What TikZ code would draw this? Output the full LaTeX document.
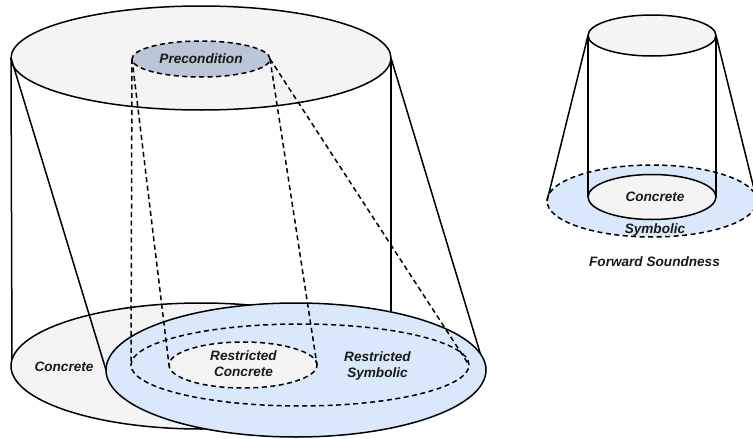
\documentclass[tikz,border=0pt]{standalone}
\usepackage{fontspec}
\setmainfont{Liberation Sans}
\usetikzlibrary{shapes.geometric}
\definecolor{graybg}{HTML}{F4F4F4}
\definecolor{symblue}{HTML}{DAE8FC}
\definecolor{precol}{HTML}{BAC5D8}
\begin{document}
\begin{tikzpicture}[x=1pt,y=-1pt,
  solidline/.style={draw=black,line width=1.5pt},
  dashline/.style={draw=black,line width=1.5pt,dash pattern=on 5pt off 3.5pt},
  disc/.style={ellipse,inner sep=0pt,outer sep=0pt},
  lbl/.style={font=\fontsize{13.6}{16}\selectfont\bfseries\itshape,text=black!90,align=center,inner sep=0pt}]
\useasboundingbox (0,0) rectangle (753,439);
\clip (0,0) rectangle (753,439);

% ---- large cylinder: concrete states ----
\node[disc,solidline,fill=graybg,minimum width=380pt,minimum height=104pt] (top) at (201,58) {};
\coordinate (lbase) at (12,366);
\coordinate (rbase) at (391,366);
\draw[solidline] (top.west) -- (lbase);
\draw[solidline] (top.east) -- (rbase);
\node[disc,solidline,fill=graybg,minimum width=380pt,minimum height=126pt] (conc) at (201,366) {};

% symbolic region under the slanted cone
\node[disc,minimum width=380pt,minimum height=134pt] (symb) at (296,370) {};
\draw[solidline] (top.west) -- (symb.west);
\node[disc,solidline,fill=symblue,minimum width=380pt,minimum height=134pt] at (296,370) {};
\draw[solidline] (top.east) -- (symb.5);

% restricted regions and precondition
\node[disc,dashline,minimum width=338pt,minimum height=82pt] (rsym) at (300,365) {};
\node[disc,dashline,fill=graybg,minimum width=148pt,minimum height=46pt] (rconc) at (243,365) {};
\node[disc,dashline,fill=precol,minimum width=138pt,minimum height=36pt] (pre) at (201,59) {};

\draw[dashline] (pre.west) -- (rsym.west);
\draw[dashline] (pre.west) -- (rconc.west);
\draw[dashline] (pre.east) -- (rconc.east);
\draw[dashline] (pre.east) -- (rsym.east);

\node[lbl] (tpre) at (pre.center) {Precondition};
\node[lbl] (tconc) at (64,367) {Concrete};
\node[lbl] (trconc) at (243.5,364) {Restricted\\Concrete};
\node[lbl] (trsym) at (377.5,366) {Restricted\\Symbolic};

% ---- small cylinder: forward soundness ----
\node[disc,dashline,fill=symblue,minimum width=210pt,minimum height=72pt] (ssym) at (652,201) {};
\node[disc,solidline,fill=graybg,minimum width=128pt,minimum height=41pt] (stop) at (652,35.5) {};
\draw[solidline] (stop.west) -- (ssym.west);
\draw[solidline] (stop.east) -- (ssym.east);
\coordinate (slb) at (588,197);
\coordinate (srb) at (716,197);
\draw[solidline] (stop.west) -- (slb);
\draw[solidline] (stop.east) -- (srb);
\node[disc,solidline,fill=graybg,minimum width=128pt,minimum height=45pt] (sconc) at (652,197) {};

\node[lbl] (tsconc) at (655,197) {Concrete};
\node[lbl] (tssym) at (655,229.5) {Symbolic};
\node[lbl] (tfwd) at (654.5,261.5) {Forward Soundness};
\end{tikzpicture}
\end{document}
